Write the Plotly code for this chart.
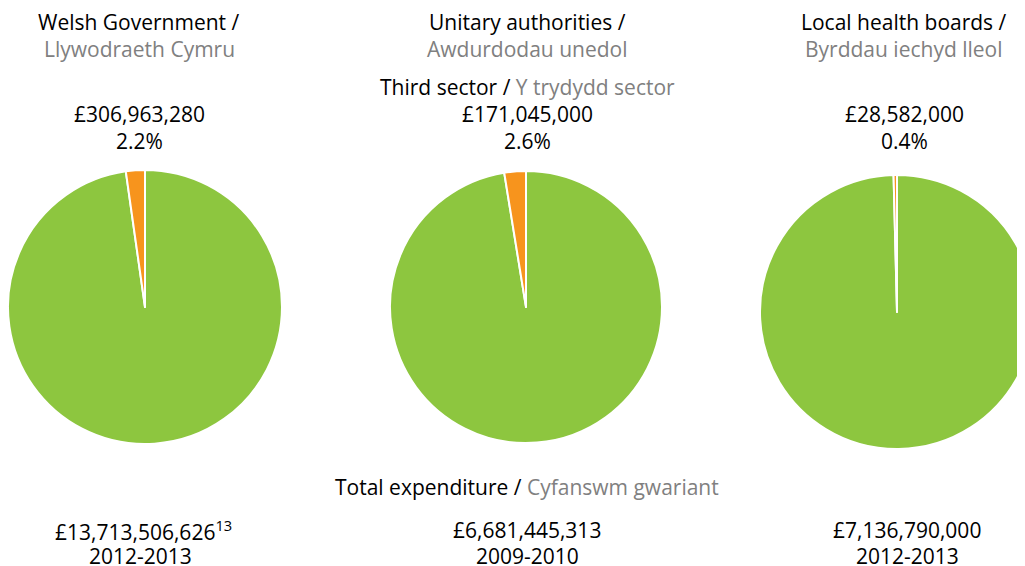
import plotly.graph_objects as go

# ---- data ----
titles_en = ["Welsh Government /", "Unitary authorities /", "Local health boards /"]
titles_cy = ["Llywodraeth Cymru", "Awdurdodau unedol", "Byrddau iechyd lleol"]
sector_amounts = [306963280, 171045000, 28582000]
sector_labels = ["£306,963,280", "£171,045,000", "£28,582,000"]
pct_labels = ["2.2%", "2.6%", "0.4%"]
total_amounts = [13713506626, 6681445313, 7136790000]
total_labels = ["£13,713,506,626<sup>13</sup>", "£6,681,445,313", "£7,136,790,000"]
years = ["2012-2013", "2009-2010", "2012-2013"]
slice_names = ["Other", "Third sector"]

GREEN = "#8DC63F"
ORANGE = "#F7941D"
GRAY = "#808080"
FONT = "Open Sans"
W, H = 1045, 566
OFF = 8  # page offset of the plot div

# pie geometry in page pixels (center x, center y, radius)
pies = [(145, 307, 137), (526, 307, 136), (897, 312, 137)]

fig = go.Figure()
for i, (cx, cy, r) in enumerate(pies):
    cx -= OFF
    cy -= OFF
    x0 = (cx - r) / W
    x1 = (cx + r) / W
    y0 = (H - (cy + r)) / H
    y1 = (H - (cy - r)) / H
    fig.add_trace(go.Pie(
        labels=slice_names,
        values=[total_amounts[i] - sector_amounts[i], sector_amounts[i]],
        marker=dict(colors=[GREEN, ORANGE], line=dict(color="white", width=2)),
        textinfo="none",
        hoverinfo="label+value+percent",
        sort=False,
        direction="clockwise",
        rotation=0,
        showlegend=False,
        domain=dict(x=[x0, x1], y=[y0, y1]),
    ))

def ann(text, x, y, color="black", size=21):
    x -= OFF
    y -= OFF
    fig.add_annotation(text=text, x=x / W, y=1 - y / H, xref="paper", yref="paper",
                       showarrow=False, xanchor="center", yanchor="middle",
                       font=dict(family=FONT, size=size, color=color))

text_x = [139, 527, 904]
for i in range(3):
    ann(titles_en[i], text_x[i], 22)
    ann(titles_cy[i], text_x[i], 49, GRAY)
    ann(sector_labels[i], text_x[i], 114)
    ann(pct_labels[i], text_x[i], 141)
    ann(years[i], [140, 527, 907][i], 556)
ann(total_labels[0], 143, 530)
ann(total_labels[1], 527, 530)
ann(total_labels[2], 907, 530)
ann("Third sector / <span style='color:%s'>Y trydydd sector</span>" % GRAY, 527, 87)
ann("Total expenditure / <span style='color:%s'>Cyfanswm gwariant</span>" % GRAY, 527, 487)

fig.update_layout(width=W, height=H, margin=dict(l=0, r=0, t=0, b=0),
                  paper_bgcolor="white", plot_bgcolor="white",
                  font=dict(family=FONT))
fig.write_html("out.html")
